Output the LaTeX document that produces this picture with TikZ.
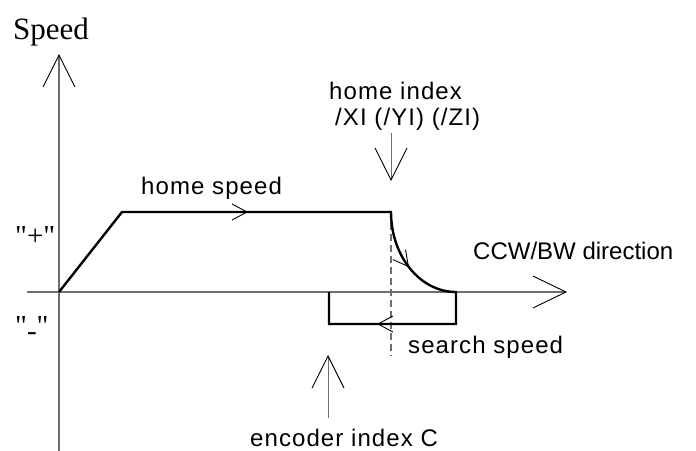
\documentclass[tikz,border=0pt]{standalone}
\usepackage{fontspec}
\setmainfont{Liberation Serif}
\newfontfamily\serifq{Liberation Serif}
\newfontfamily\arialf{Liberation Sans}
\usetikzlibrary{arrows.meta,decorations.markings}
\definecolor{axisgray}{RGB}{110,110,110}
\tikzset{
  axisline/.style={draw=axisgray, line width=1.3pt},
  bigtip/.style={-{Straight Barb[length=32pt,width=32pt,line width=0.9pt,color=black]}},
  profile/.style={draw=black, line width=2.4pt, line join=miter},
  dashline/.style={draw=axisgray, line width=1.2pt, dash pattern=on 7pt off 4pt},
  sanslbl/.style={font=\arialf\fontsize{24}{28}\selectfont\addfontfeature{LetterSpace=4.5}, anchor=base west, inner sep=0pt},
  dirlbl/.style={font=\arialf\fontsize{24}{28}\selectfont, anchor=base west, inner sep=0pt},
  seriflbl/.style={font=\serifq\fontsize{31}{36}\selectfont, anchor=base west, inner sep=0pt},
  pmlbl/.style={font=\serifq\fontsize{29}{34}\selectfont, anchor=base west, inner sep=0pt},
  midtip/.style={decoration={markings,
      mark=at position 227.8pt with {\arrow{Straight Barb[length=15pt,width=16pt,line width=0.9pt,color=black]}},
      mark=at position 430pt with {\arrow{Straight Barb[length=15pt,width=16pt,line width=0.9pt,color=black]}},
      mark=at position 596pt with {\arrow{Straight Barb[length=15pt,width=16pt,line width=0.9pt,color=black]}}},
    postaction={decorate}}
}
\begin{document}
\begin{tikzpicture}[x=1pt,y=-1pt]
\useasboundingbox (0,0) rectangle (696,450);
% coordinates
\coordinate (O) at (59,292);
\coordinate (ytop) at (59,54);
\coordinate (ybot) at (59,452);
\coordinate (xl) at (27,292);
\coordinate (xr) at (567,292);
\coordinate (ramp) at (122,212);
\coordinate (flatend) at (391,212);
\coordinate (curveend) at (456,292);
\coordinate (br) at (456,324);
\coordinate (bl) at (329,324);
\coordinate (blt) at (329,292);
\coordinate (hiTail) at (391,133);
\coordinate (hiTip) at (391,181);
\coordinate (dbot) at (391,356);
\coordinate (encTail) at (328,418);
\coordinate (encTip) at (328,355);
% axes
\draw[axisline,bigtip] (ybot) -- (ytop);
\draw[axisline,-{Straight Barb[length=33pt,width=32pt,line width=0.9pt,color=black]}] (xl) -- (xr);
% dashed line
\draw[dashline] (flatend) -- (dbot);
% profile
\draw[profile,midtip] (O) -- (ramp) -- (flatend) .. controls (391,256.2) and (420.1,292) .. (curveend) -- (br) -- (bl) -- (blt);
% index arrows
\draw[axisline,line width=1pt,bigtip] (hiTail) -- (hiTip);
\draw[axisline,line width=1pt,bigtip] (encTail) -- (encTip);
% labels
\node[seriflbl] (sp) at (13,39) {Speed};
\node[pmlbl] (plus) at (15,245) {"+"};
\node[pmlbl] (minus) at (15,335) {"\raisebox{-5pt}{-}"};
\node[sanslbl] (hi1) at (329,99) {home index};
\node[sanslbl] (hi2) at (335,125) {/XI (/YI) (/ZI)};
\node[sanslbl] (hs) at (141,194) {home speed};
\node[dirlbl] (ccw) at (473,259) {CCW/BW direction};
\node[sanslbl] (ss) at (408,353) {search speed};
\node[sanslbl] (enc) at (250,446) {encoder index C};
\end{tikzpicture}
\end{document}
